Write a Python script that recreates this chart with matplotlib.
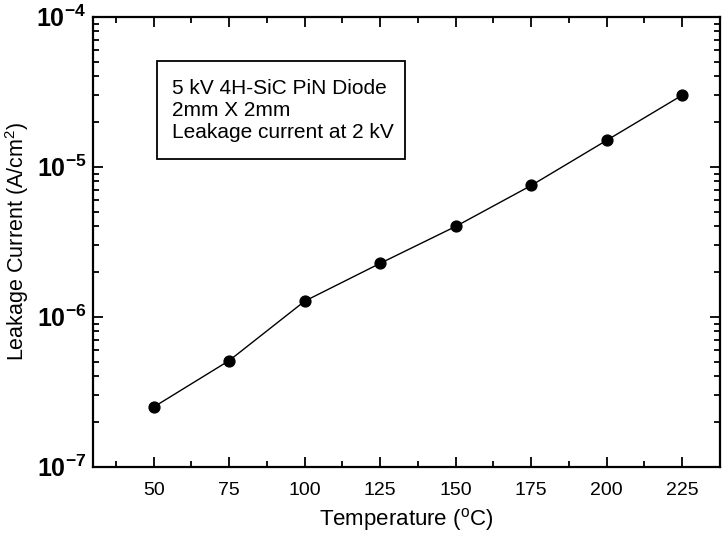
import numpy as np
import matplotlib
matplotlib.use('Agg')
import matplotlib.pyplot as plt
from matplotlib.patches import Rectangle
from matplotlib.ticker import FixedLocator, LogLocator, NullFormatter

plt.rcParams['font.family'] = ['Liberation Sans', 'DejaVu Sans']
plt.rcParams['mathtext.fontset'] = 'custom'
plt.rcParams['mathtext.rm'] = 'Liberation Sans'
plt.rcParams['mathtext.bf'] = 'Liberation Sans:bold'

# temperature (C) and leakage current density (A/cm^2) at 2 kV
temperature = [50, 75, 100, 125, 150, 175, 200, 225]
leakage = [2.5e-7, 5.1e-7, 1.27e-6, 2.27e-6, 4.0e-6, 7.5e-6, 1.5e-5, 3.0e-5]

x_major = [50, 75, 100, 125, 150, 175, 200, 225]
x_minor = [37.5, 62.5, 87.5, 112.5, 137.5, 162.5, 187.5, 212.5, 237.5]
y_major = [1e-7, 1e-6, 1e-5, 1e-4]
y_labels = [r'$\mathbf{10^{-7}}$', r'$\mathbf{10^{-6}}$', r'$\mathbf{10^{-5}}$', r'$\mathbf{10^{-4}}$']

box_text = '5 kV 4H-SiC PiN Diode\n2mm X 2mm\nLeakage current at 2 kV'

fig = plt.figure(figsize=(7.25, 5.36), dpi=100)
ax = fig.add_axes([0.1287, 0.1293, 0.8644, 0.8395])

ax.plot(temperature, leakage, '-', color='black', lw=1.0,
        marker='o', ms=7.8, mfc='black', mec='black')

ax.set_yscale('log')
ax.set_xlim(30, 237.5)
ax.set_ylim(1e-7, 1e-4)

ax.xaxis.set_major_locator(FixedLocator(x_major))
ax.xaxis.set_minor_locator(FixedLocator(x_minor))
ax.set_xticklabels([str(v) for v in x_major])
ax.yaxis.set_major_locator(FixedLocator(y_major))
ax.set_yticklabels(y_labels)
ax.yaxis.set_minor_locator(LogLocator(base=10, subs=np.arange(2, 10)))
ax.yaxis.set_minor_formatter(NullFormatter())

ax.tick_params(which='both', direction='in', top=True, right=True, width=1.3)
ax.tick_params(which='major', length=7)
ax.tick_params(which='minor', length=4)
ax.tick_params(axis='x', labelsize=14, pad=11)
ax.tick_params(axis='y', labelsize=18, pad=5)

for s in ax.spines.values():
    s.set_linewidth(1.6)

ax.set_xlabel(r'Temperature ($^{\rm o}$C)', fontsize=16, labelpad=5)
ax.set_ylabel(r'Leakage Current (A/cm$^2$)', fontsize=15.5, labelpad=4)

ax.add_patch(Rectangle((0.1021, 0.6831), 0.3953, 0.2191, transform=ax.transAxes,
                       fill=False, lw=1.3, ec='black'))
ax.text(0.1251, 0.8607, box_text, transform=ax.transAxes, va='top', ha='left',
        fontsize=15, linespacing=1.2)

fig.savefig('out.png', dpi=100)
